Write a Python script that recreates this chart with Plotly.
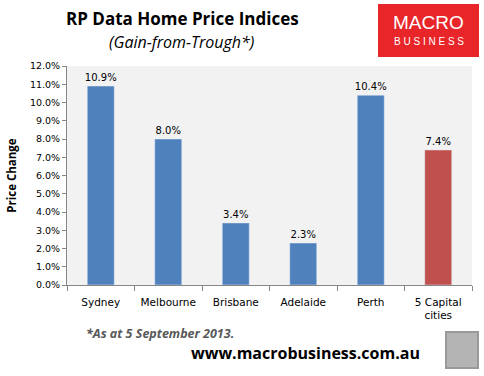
import plotly.graph_objects as go

categories = ["Sydney", "Melbourne", "Brisbane", "Adelaide", "Perth", "5 Capital<br>cities"]
values = [10.9, 8.0, 3.4, 2.3, 10.4, 7.4]
colors = ["#4F81BD"] * 5 + ["#C0504D"]
tick_vals = [i for i in range(0, 13)]
tick_text = [f"{v:.1f}%" for v in tick_vals]

W, H = 484, 376
L, R, T, B = 67, 12, 66, 91
PW, PH = W - L - R, H - T - B

def px(x):
    return (x - L) / PW

def py(y):
    return (H - B - y) / PH

fig = go.Figure()
fig.add_trace(go.Bar(
    x=categories, y=values, marker_color=colors, width=0.4,
    text=[f"{v:.1f}%" for v in values], textposition="outside",
    textfont=dict(family="DejaVu Sans", size=10, color="#000000"),
    cliponaxis=False, constraintext="none",
))

fig.update_layout(
    width=W, height=H, margin=dict(l=L, r=R, t=T, b=B, autoexpand=False),
    paper_bgcolor="white", plot_bgcolor="#F2F2F2",
    showlegend=False, bargap=0.6,
    font=dict(family="DejaVu Sans", size=10, color="#000000"),
)
fig.update_yaxes(
    range=[0, 12], tickvals=tick_vals, ticktext=tick_text,
    showgrid=False, zeroline=False, showline=True, linecolor="#868686",
    ticks="outside", ticklen=4, tickcolor="#868686",
    tickfont=dict(family="DejaVu Sans", size=9.5),
    title=dict(text="<b>Price Change</b>", font=dict(family="Open Sans", size=11.5), standoff=10),
)
fig.update_xaxes(
    showgrid=False, showline=True, linecolor="#868686",
    ticks="outside", ticklen=5, tickcolor="#868686", tickson="boundaries",
    tickfont=dict(family="DejaVu Sans", size=10.5), ticklabelstandoff=7,
)

def note(x, y, text, size, color="#000000", family="Open Sans", xanchor="center"):
    fig.add_annotation(x=px(x), y=py(y), xref="paper", yref="paper",
                       xanchor=xanchor, yanchor="middle", text=text, showarrow=False,
                       font=dict(family=family, size=size, color=color))

# Titles
note(182, 18, "<b>RP Data Home Price Indices</b>", 17)
note(181, 42, "<i>(Gain-from-Trough*)</i>", 16)

# Logo
fig.add_shape(type="rect", xref="paper", yref="paper",
              x0=px(378), x1=px(479), y0=py(57), y1=py(4),
              fillcolor="#E8262A", line=dict(width=0))
note(428, 23, "MACRO", 19, "white", "Liberation Sans")
note(429, 41, "B U S I N E S S", 10, "white", "Liberation Sans")

# Footnotes
note(84, 333, "<b><i>*As at 5 September 2013.</i></b>", 12.5, "#595959", xanchor="left")
note(305, 353, "<b>www.macrobusiness.com.au</b>", 16)

# Wolf image placeholder
fig.add_shape(type="rect", xref="paper", yref="paper",
              x0=px(446), x1=px(478), y0=py(368), y1=py(332),
              fillcolor="#B4B4B4", line=dict(color="#999999", width=2))

fig.write_html("out.html", config={"displayModeBar": False},
               post_script="document.body.style.margin='0';")
